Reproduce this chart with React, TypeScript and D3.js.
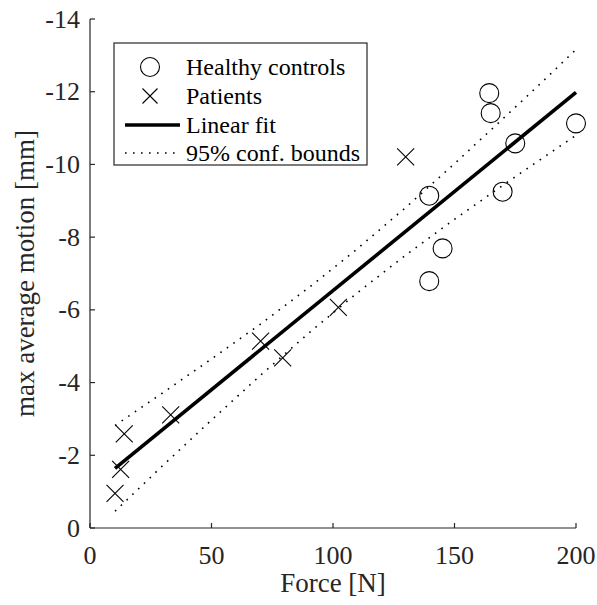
import React from "react";
import * as d3 from "d3";

// Healthy controls (circles)
const controlsForce = [139.6, 145.1, 139.6, 164.3, 164.9, 169.8, 175.0, 200.0];
const controlsMotion = [-9.14, -7.69, -6.79, -11.96, -11.41, -9.25, -10.58, -11.13];

// Patients (crosses)
const patientsForce = [10.3, 12.6, 14.1, 33.2, 70.2, 79.3, 102.2, 129.9];
const patientsMotion = [-0.95, -1.61, -2.59, -3.11, -5.14, -4.68, -6.07, -10.21];

// Linear fit endpoints
const fitForce = [10.3, 200];
const fitMotion = [-1.64, -11.98];

// 95% confidence bounds (read at several forces)
const boundForce = [10.3, 30, 50, 70, 90, 110, 130, 150, 170, 185, 200];
const boundUpper = [-2.82, -3.72, -4.65, -5.6, -6.61, -7.68, -8.82, -10.02, -11.26, -12.2, -13.16];
const boundLower = [-0.46, -1.72, -2.97, -4.19, -5.36, -6.47, -7.51, -8.49, -9.43, -10.12, -10.8];

const xTicks = [0, 50, 100, 150, 200];
const yTicks = [0, -2, -4, -6, -8, -10, -12, -14];

const legendLabels = ["Healthy controls", "Patients", "Linear fit", "95% conf. bounds"];

const W = 597;
const H = 605;
const AX = "#262626";
const FONT = "'Liberation Serif', 'Times New Roman', serif";

export default function App() {
  const x = d3.scaleLinear().domain([0, 200]).range([90, 576]);
  const y = d3.scaleLinear().domain([0, -14]).range([528, 19]);
  const line = d3
    .line<[number, number]>()
    .x((d) => x(d[0]))
    .y((d) => y(d[1]));

  const fitPts: [number, number][] = fitForce.map((f, i) => [f, fitMotion[i]]);
  const upPts: [number, number][] = boundForce.map((f, i) => [f, boundUpper[i]]);
  const loPts: [number, number][] = boundForce.map((f, i) => [f, boundLower[i]]);

  const cross = (cx: number, cy: number, s: number, key: string) => (
    <path
      key={key}
      d={`M${cx - s},${cy - s}L${cx + s},${cy + s}M${cx - s},${cy + s}L${cx + s},${cy - s}`}
      stroke="#000"
      strokeWidth={1.1}
      fill="none"
    />
  );

  const dotted = { stroke: "#000", strokeWidth: 1.6, strokeDasharray: "1.6 6.4", fill: "none" };

  const lg = { x0: 114, y0: 43, x1: 367, y1: 165 };
  const rows = [67, 96, 125, 153];

  return (
    <svg
      width={W}
      height={H}
      style={{ position: "absolute", left: 0, top: 0, background: "#fff" }}
      fontFamily={FONT}
    >
      <rect x={0} y={0} width={W} height={H} fill="#fff" />
      {/* confidence bounds */}
      <path d={line(upPts) || ""} {...dotted} />
      <path d={line(loPts) || ""} {...dotted} />
      {/* fit */}
      <path d={line(fitPts) || ""} stroke="#000" strokeWidth={3.6} fill="none" />
      {/* controls */}
      {controlsForce.map((f, i) => (
        <circle key={"c" + i} cx={x(f)} cy={y(controlsMotion[i])} r={9.5} fill="none" stroke="#000" strokeWidth={1.1} />
      ))}
      {/* patients */}
      {patientsForce.map((f, i) => cross(x(f), y(patientsMotion[i]), 8.5, "p" + i))}

      {/* axes */}
      <line x1={x(0)} x2={x(200)} y1={y(0)} y2={y(0)} stroke={AX} strokeWidth={1.2} />
      <line x1={x(0)} x2={x(0)} y1={y(0)} y2={y(-14)} stroke={AX} strokeWidth={1.2} />
      {xTicks.map((t) => (
        <g key={"xt" + t}>
          <line x1={x(t)} x2={x(t)} y1={y(0)} y2={y(0) - 5} stroke={AX} strokeWidth={1.2} />
          <text x={x(t)} y={564} textAnchor="middle" fontSize={26} fill={AX}>
            {t}
          </text>
        </g>
      ))}
      {yTicks.map((t) => (
        <g key={"yt" + t}>
          <line x1={x(0)} x2={x(0) + 5} y1={y(t)} y2={y(t)} stroke={AX} strokeWidth={1.2} />
          <text x={80} y={y(t)} dy="0.33em" textAnchor="end" fontSize={26} fill={AX}>
            {t === 0 ? "0" : String(t).replace("\u2212", "-")}
          </text>
        </g>
      ))}
      <text x={(x(0) + x(200)) / 2} y={592} textAnchor="middle" fontSize={27} fill={AX}>
        Force [N]
      </text>
      <text
        transform={`translate(34,${(y(0) + y(-14)) / 2}) rotate(-90)`}
        textAnchor="middle"
        fontSize={27}
        fill={AX}
      >
        max average motion [mm]
      </text>

      {/* legend */}
      <rect x={lg.x0} y={lg.y0} width={lg.x1 - lg.x0} height={lg.y1 - lg.y0} fill="#fff" stroke={AX} strokeWidth={1.2} />
      <circle cx={150} cy={rows[0]} r={9.5} fill="none" stroke="#000" strokeWidth={1.1} />
      {cross(150, rows[1], 7.5, "lgx")}
      <line x1={125} x2={180} y1={rows[2]} y2={rows[2]} stroke="#000" strokeWidth={3.6} />
      <line x1={125} x2={180} y1={rows[3]} y2={rows[3]} {...dotted} />
      {legendLabels.map((l, i) => (
        <text key={l} x={186} y={rows[i]} dy="0.33em" fontSize={24} fill="#000">
          {l}
        </text>
      ))}
    </svg>
  );
}
